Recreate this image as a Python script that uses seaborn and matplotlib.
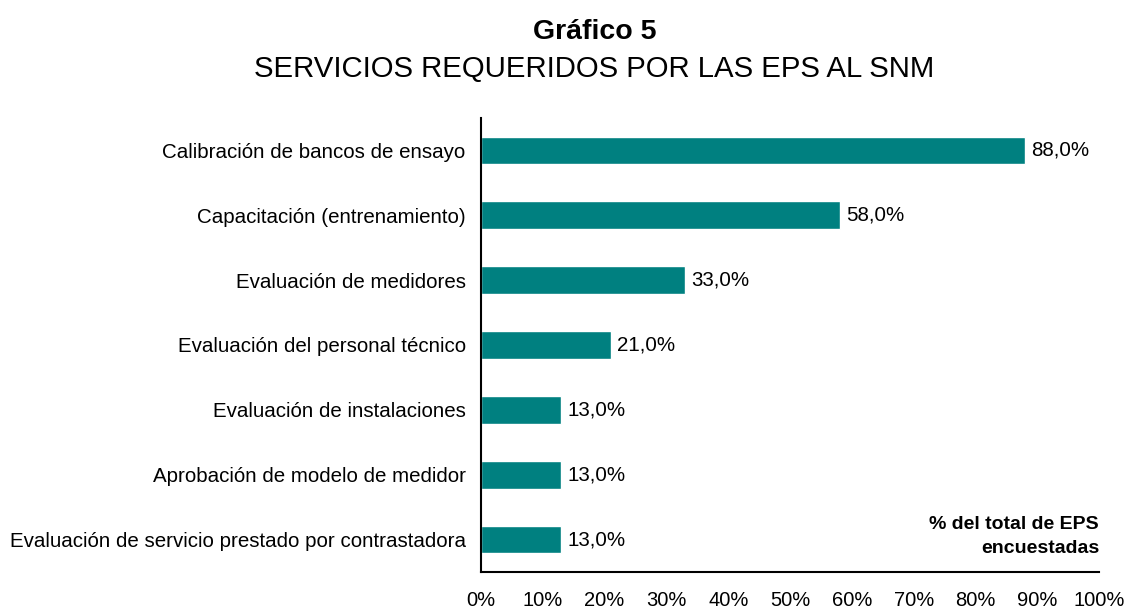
import matplotlib
matplotlib.use('Agg')
import matplotlib.pyplot as plt
import seaborn as sns
import pandas as pd

servicios = [
    'Calibración de bancos de ensayo',
    'Capacitación (entrenamiento)',
    'Evaluación de medidores',
    'Evaluación del personal técnico',
    'Evaluación de instalaciones',
    'Aprobación de modelo de medidor',
    'Evaluación de servicio prestado por contrastadora',
]
porcentajes = [88.0, 58.0, 33.0, 21.0, 13.0, 13.0, 13.0]
ticks_x = [0, 10, 20, 30, 40, 50, 60, 70, 80, 90, 100]

df = pd.DataFrame({'servicio': servicios, 'pct': porcentajes})

sns.set_style('white')
plt.rcParams['font.family'] = ['Liberation Sans', 'DejaVu Sans']
plt.rcParams['text.color'] = 'black'
plt.rcParams['xtick.color'] = 'black'
plt.rcParams['ytick.color'] = 'black'

fig = plt.figure(figsize=(11.28, 6.09), dpi=100)
ax = fig.add_axes([0.4264, 0.0608, 0.548, 0.7454])

sns.barplot(data=df, x='pct', y='servicio', orient='h', color='#008080',
            saturation=1, width=0.43, ax=ax)

ax.set_xlim(0, 100)
ax.set_ylim(6.5, -0.5)
ax.set_xticks(ticks_x)
ax.set_xticklabels([f'{t}%' for t in ticks_x], fontsize=14.5)
ax.tick_params(axis='x', length=0, pad=13.5)
ax.tick_params(axis='y', length=0, pad=11, labelsize=14.8)
ax.set_xlabel('')
ax.set_ylabel('')

for s in ['top', 'right']:
    ax.spines[s].set_visible(False)
for s in ['left', 'bottom']:
    ax.spines[s].set_color('black')
    ax.spines[s].set_linewidth(1.5)

for i, v in enumerate(porcentajes):
    ax.text(v + 1.0, i, f'{v:.1f}%'.replace('.', ','), va='center', ha='left',
            fontsize=14.8)

ax.text(100, 5.95, '% del total de EPS\nencuestadas', ha='right', va='center',
        fontsize=14, fontweight='bold', linespacing=1.5)

fig.text(0.527, 0.948, 'Gráfico 5', ha='center', va='center', fontsize=20.5,
         fontweight='bold')
fig.text(0.527, 0.887, 'SERVICIOS REQUERIDOS POR LAS EPS AL SNM', ha='center',
         va='center', fontsize=21.2)

fig.savefig('out.png', dpi=100)
